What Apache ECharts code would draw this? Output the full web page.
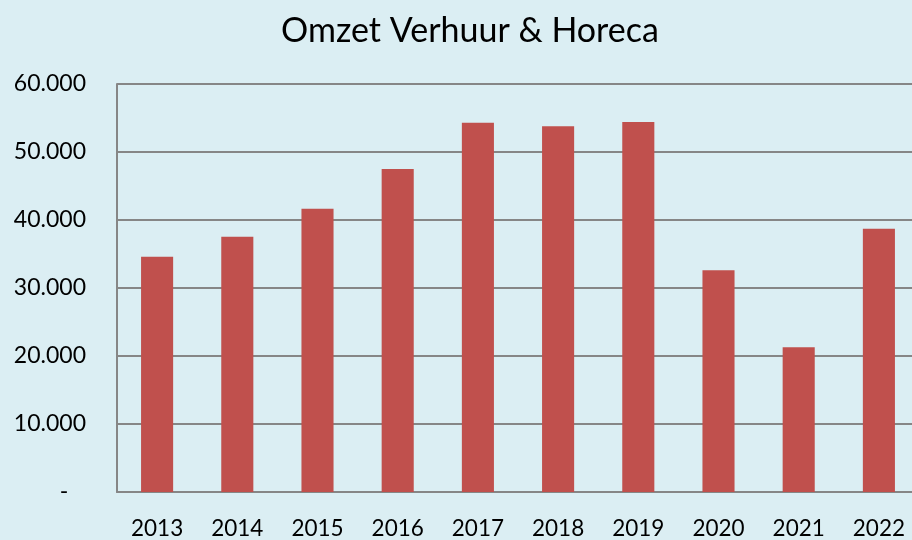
<!DOCTYPE html>
<html><head><meta charset="utf-8">
<script src="https://cdn.jsdelivr.net/npm/echarts@6/dist/echarts.min.js"></script>
<style>html,body{margin:0;padding:0;background:#DBEEF3;overflow:hidden;width:912px;height:540px;}#c{width:930px;height:540px;}</style>
</head><body><div id="c"></div>
<script>
const years = ['2013','2014','2015','2016','2017','2018','2019','2020','2021','2022'];
const omzet = [34600, 37550, 41650, 47500, 54300, 53800, 54400, 32600, 21300, 38700];
const titleText = 'Omzet Verhuur & Horeca';

const chart = echarts.init(document.getElementById('c'));
function fmt(v){
  if (v === 0) return '-   ';
  return String(v).replace(/\B(?=(\d{3})+(?!\d))/g, '.');
}
chart.setOption({
  backgroundColor: '#DBEEF3',
  animation: false,
  title: {
    text: titleText,
    left: 465, top: 9, textAlign: 'center',
    textStyle: {fontFamily: 'Lato', fontSize: 34, fontWeight: 'normal', color: '#000'}
  },
  grid: {left: 117, top: 84, width: 802, height: 409.5, containLabel: false},
  xAxis: {
    type: 'category', data: years,
    axisLine: {lineStyle: {color: '#868686', width: 2}},
    axisTick: {show: false},
    axisLabel: {fontFamily: 'Lato', fontSize: 22.5, color: '#000', margin: 25}
  },
  yAxis: {
    type: 'value', min: 0, max: 60000, interval: 10000,
    axisLine: {show: true, lineStyle: {color: '#868686', width: 2}},
    axisTick: {show: false},
    splitLine: {lineStyle: {color: '#868686', width: 2}},
    axisLabel: {fontFamily: 'Lato', fontSize: 23, color: '#000', margin: 31, formatter: fmt}
  },
  series: [{
    type: 'bar', data: omzet, barWidth: '40%',
    itemStyle: {color: '#C0504D'}
  }]
});
</script></body></html>
